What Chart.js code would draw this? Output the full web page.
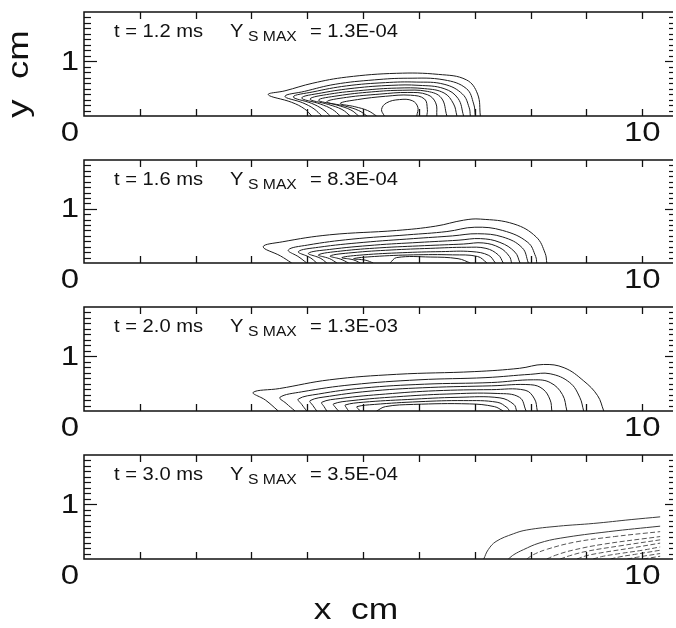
<!DOCTYPE html>
<html>
<head>
<meta charset="utf-8">
<script src="https://cdn.jsdelivr.net/npm/chart.js@4.4.1/dist/chart.umd.min.js"></script>
<style>
  html, body { margin: 0; padding: 0; background: #fff; }
  #wrap { position: relative; width: 676px; height: 628px; overflow: hidden; }
  #wrap canvas { position: absolute; left: 0; }
</style>
</head>
<body>
<div id="wrap">
  <canvas id="panel0" width="676" height="148" style="top:0px"></canvas>
  <canvas id="panel1" width="676" height="148" style="top:148px"></canvas>
  <canvas id="panel2" width="676" height="148" style="top:296px"></canvas>
  <canvas id="panel3" width="676" height="184" style="top:444px"></canvas>
</div>
<script>
// ---- axis ranges (cm) ----
const X_MIN = 0, X_MAX = 10.55;
const Y_MIN = 0, Y_MAX = 1.9;

// ---- labels ----
const times = ['1.2', '1.6', '2.0', '3.0'];           // ms
const ysMax = ['1.3E-04', '8.3E-04', '1.3E-03', '3.5E-04'];
const xTickLabels = [{ v: 0, t: '0' }, { v: 10, t: '10' }];
const yTickLabels = [{ v: 1, t: '1' }];
const xMajorTicks = [1, 2, 3, 4, 5, 6, 7, 8, 9, 10];

// ---- contour lines of Y_S, (x cm, y cm) ----
const contours12 = [
  [[4.08,0],[3.95,0.13],[3.72,0.25],[3.30,0.39],[3.60,0.46],[4.10,0.60],[4.70,0.71],[5.60,0.78],[6.35,0.76],[6.85,0.66],[7.05,0.40],[7.10,0]],
  [[4.26,0],[4.12,0.13],[3.92,0.24],[3.60,0.36],[3.95,0.45],[4.50,0.58],[5.20,0.66],[5.80,0.69],[6.45,0.66],[6.85,0.50],[6.98,0.22],[7.01,0]],
  [[4.41,0],[4.28,0.12],[4.08,0.23],[3.75,0.35],[4.10,0.44],[4.70,0.55],[5.40,0.61],[5.95,0.62],[6.45,0.58],[6.78,0.40],[6.90,0.15],[6.92,0]],
  [[4.59,0],[4.45,0.12],[4.23,0.22],[3.90,0.33],[4.25,0.42],[4.85,0.51],[5.50,0.56],[6.00,0.56],[6.45,0.50],[6.70,0.32],[6.80,0]],
  [[4.77,0],[4.62,0.12],[4.38,0.21],[4.05,0.31],[4.40,0.40],[5.00,0.47],[5.60,0.51],[6.10,0.50],[6.45,0.42],[6.62,0.22],[6.68,0]],
  [[4.92,0],[4.78,0.11],[4.53,0.20],[4.20,0.29],[4.55,0.37],[5.15,0.44],[5.70,0.47],[6.15,0.45],[6.40,0.33],[6.50,0]],
  [[5.07,0],[4.92,0.10],[4.68,0.18],[4.35,0.26],[4.70,0.34],[5.30,0.40],[5.80,0.43],[6.15,0.39],[6.30,0.24],[6.32,0]],
  [[5.24,0],[5.08,0.10],[4.85,0.17],[4.59,0.23],[4.90,0.30],[5.40,0.36],[5.85,0.38],[6.10,0.31],[6.15,0.12],[6.14,0]],
  [[5.38,0],[5.33,0.12],[5.42,0.24],[5.65,0.30],[5.88,0.28],[5.98,0.16],[5.96,0]]
];
const contours16 = [
  [[3.72,0],[3.52,0.13],[3.21,0.30],[3.55,0.39],[4.40,0.52],[5.60,0.60],[6.30,0.68],[6.80,0.79],[7.10,0.81],[7.70,0.72],[8.10,0.48],[8.26,0.18],[8.29,0]],
  [[3.99,0],[3.85,0.11],[3.66,0.24],[4.00,0.33],[4.80,0.44],[5.80,0.52],[6.50,0.58],[7.00,0.66],[7.50,0.60],[7.95,0.38],[8.09,0.12],[8.11,0]],
  [[4.17,0],[4.05,0.10],[3.84,0.21],[4.20,0.29],[5.00,0.38],[5.90,0.45],[6.60,0.50],[7.05,0.54],[7.50,0.48],[7.85,0.28],[7.96,0]],
  [[4.35,0],[4.23,0.09],[4.02,0.18],[4.40,0.25],[5.20,0.33],[6.00,0.38],[6.70,0.42],[7.10,0.45],[7.45,0.38],[7.72,0.20],[7.81,0]],
  [[4.53,0],[4.40,0.08],[4.20,0.15],[4.60,0.22],[5.30,0.28],[6.10,0.32],[6.80,0.35],[7.15,0.37],[7.45,0.28],[7.62,0.12],[7.66,0]],
  [[4.74,0],[4.60,0.07],[4.41,0.13],[4.80,0.19],[5.50,0.24],[6.20,0.27],[6.85,0.29],[7.20,0.27],[7.42,0.15],[7.51,0]],
  [[4.95,0],[4.82,0.06],[4.62,0.10],[5.00,0.15],[5.70,0.19],[6.40,0.21],[6.95,0.21],[7.25,0.14],[7.37,0]],
  [[5.18,0],[5.05,0.05],[4.83,0.08],[5.20,0.12],[5.90,0.15],[6.60,0.15],[7.05,0.12],[7.22,0]],
  [[5.48,0],[5.60,0.10],[6.20,0.11],[6.70,0.08],[6.92,0]]
];
const contours20 = [
  [[3.48,0],[3.25,0.20],[3.03,0.34],[3.50,0.41],[4.40,0.57],[5.60,0.67],[7.00,0.72],[7.80,0.78],[8.23,0.85],[8.60,0.79],[8.95,0.55],[9.20,0.28],[9.31,0]],
  [[3.78,0],[3.62,0.14],[3.51,0.25],[3.90,0.35],[4.80,0.48],[6.00,0.57],[7.20,0.61],[8.00,0.67],[8.35,0.68],[8.70,0.52],[8.88,0.25],[8.95,0]],
  [[3.99,0],[3.90,0.12],[3.84,0.22],[4.20,0.31],[5.00,0.42],[6.10,0.49],[7.30,0.52],[8.05,0.57],[8.35,0.52],[8.57,0.30],[8.65,0]],
  [[4.17,0],[4.10,0.10],[4.05,0.19],[4.40,0.27],[5.20,0.37],[6.20,0.43],[7.30,0.46],[8.00,0.48],[8.22,0.40],[8.35,0.20],[8.38,0]],
  [[4.35,0],[4.30,0.08],[4.26,0.16],[4.60,0.23],[5.40,0.31],[6.30,0.37],[7.30,0.39],[7.90,0.38],[8.07,0.22],[8.12,0]],
  [[4.56,0],[4.50,0.07],[4.47,0.13],[4.80,0.19],[5.60,0.26],[6.50,0.31],[7.40,0.32],[7.80,0.25],[7.92,0]],
  [[4.74,0],[4.70,0.06],[4.68,0.11],[5.00,0.16],[5.80,0.21],[6.70,0.25],[7.45,0.24],[7.70,0.12],[7.75,0]],
  [[4.95,0],[4.91,0.04],[4.89,0.08],[5.20,0.12],[6.00,0.17],[6.80,0.19],[7.40,0.16],[7.58,0.06],[7.62,0]],
  [[5.24,0],[5.40,0.08],[5.90,0.12],[6.90,0.13],[7.35,0.08],[7.51,0]]
];
const contours30 = [
  [[7.16,0],[7.24,0.17],[7.38,0.32],[7.69,0.46],[7.93,0.53],[8.50,0.60],[9.13,0.65],[9.80,0.72],[10.32,0.77]],
  [[7.60,0],[7.70,0.08],[7.87,0.17],[8.15,0.29],[8.53,0.38],[9.40,0.50],[10.32,0.60]],
  [[7.93,0],[8.05,0.08],[8.30,0.18],[8.80,0.31],[9.50,0.41],[10.32,0.50]],
  [[8.29,0],[8.45,0.07],[8.75,0.16],[9.30,0.27],[10.32,0.41]],
  [[8.53,0],[8.70,0.06],[9.00,0.14],[9.60,0.24],[10.32,0.35]],
  [[8.83,0],[9.00,0.06],[9.30,0.12],[9.80,0.20],[10.32,0.29]],
  [[9.12,0],[9.30,0.05],[9.60,0.10],[10.00,0.16],[10.32,0.22]],
  [[9.43,0],[9.60,0.04],[9.90,0.09],[10.32,0.16]],
  [[9.73,0],[9.95,0.04],[10.32,0.10]],
  [[10.02,0],[10.32,0.05]]
];
const panelContours = [contours12, contours16, contours20, contours30];

// ---- layout ----
const canvasTops  = [0, 148, 296, 444];
const canvasHeights = [148, 148, 148, 184];
const panelTops = [12, 160, 307, 455];
const panelBottoms = [116, 263, 411, 559];
const PLOT_LEFT = 84, PLOT_RIGHT = 673, W = 676;
const FONT = '"Liberation Sans", Arial, Helvetica, sans-serif';
const TEXT_STRETCH = 1.22;
const LABEL_STRETCH = 1.12;
const INK = '#111';

function wideText(ctx, str, x, y, size, align, baseline, stretch) {
  ctx.save();
  ctx.translate(x, y);
  ctx.scale(stretch || TEXT_STRETCH, 1);
  ctx.font = size + 'px ' + FONT;
  ctx.fillStyle = INK;
  ctx.textAlign = align || 'left';
  ctx.textBaseline = baseline || 'alphabetic';
  ctx.fillText(str, 0, 0);
  ctx.restore();
}

function seg(ctx, x1, y1, x2, y2) {
  ctx.beginPath(); ctx.moveTo(x1, y1); ctx.lineTo(x2, y2); ctx.stroke();
}

const panelDecor = {
  id: 'panelDecor',
  afterDatasetsDraw(chart, args, opts) {
    const ctx = chart.ctx;
    const xs = chart.scales.x, ys = chart.scales.y;
    const L = xs.getPixelForValue(X_MIN), R = xs.getPixelForValue(X_MAX);
    const T = ys.getPixelForValue(Y_MAX), B = ys.getPixelForValue(Y_MIN);
    ctx.save();
    ctx.strokeStyle = INK;
    // frame: left, top, bottom
    ctx.lineWidth = 1.5;
    ctx.beginPath();
    ctx.moveTo(R, T); ctx.lineTo(L, T); ctx.lineTo(L, B); ctx.lineTo(R, B);
    ctx.stroke();
    // x ticks, inward on top and bottom
    ctx.lineWidth = 1.3;
    xMajorTicks.forEach(v => {
      const px = Math.round(xs.getPixelForValue(v)) + 0.5;
      seg(ctx, px, T, px, T + 7);
      seg(ctx, px, B, px, B - 7);
    });
    // y ticks every 0.1 cm, left and right
    ctx.lineWidth = 1.2;
    for (let i = 1; i <= 18; i++) {
      const v = i / 10;
      const py = Math.round(ys.getPixelForValue(v)) + 0.5;
      const major = (i === 10);
      seg(ctx, L, py, L + (major ? 13 : 7), py);
      seg(ctx, R, py, R - (major ? 8 : 4), py);
    }
    // tick labels
    xTickLabels.forEach(tk => {
      if (tk.v === 0) return;
      wideText(ctx, tk.t, xs.getPixelForValue(tk.v), B + 18, 27, 'center', 'middle');
    });
    wideText(ctx, '0', L - 14, B + 18, 27, 'center', 'middle');
    yTickLabels.forEach(tk => {
      wideText(ctx, tk.t, L - 14, ys.getPixelForValue(tk.v) + 1, 27, 'center', 'middle');
    });
    // annotation
    const i = opts.index;
    const base = T + 25;
    wideText(ctx, 't = ' + times[i] + ' ms', L + 30, base, 18, 'left', 'alphabetic', LABEL_STRETCH);
    wideText(ctx, 'Y', L + 146, base, 18, 'left', 'alphabetic', LABEL_STRETCH);
    wideText(ctx, 'S MAX', L + 164, base + 4, 14, 'left', 'alphabetic', LABEL_STRETCH);
    wideText(ctx, '= ' + ysMax[i], L + 226, base, 18, 'left', 'alphabetic', LABEL_STRETCH);
    // axis titles
    if (i === 0) {
      ctx.save();
      ctx.translate(20, 74);
      ctx.rotate(-Math.PI / 2);
      wideText(ctx, 'y  cm', 0, 0, 30, 'center', 'middle');
      ctx.restore();
    }
    if (i === 3) {
      wideText(ctx, 'x  cm', 356, B + 52, 29, 'center', 'middle');
    }
    ctx.restore();
  }
};

function buildPanel(i) {
  const solidCount = (i === 3) ? 2 : 99;
  const datasets = panelContours[i].map((pts, k) => ({
    data: pts.map(p => ({ x: p[0], y: p[1] })),
    showLine: true,
    fill: false,
    tension: 0.4,
    pointRadius: 0,
    borderWidth: 1,
    borderColor: (i === 3) ? (k < solidCount ? '#3a3a3a' : '#555') : '#1c1c1c',
    borderDash: (k < solidCount) ? [] : [5, 2.5]
  }));
  const top = panelTops[i] - canvasTops[i];
  const bottom = canvasHeights[i] - (panelBottoms[i] - canvasTops[i]);
  new Chart(document.getElementById('panel' + i), {
    type: 'scatter',
    data: { datasets },
    options: {
      responsive: false,
      animation: false,
      events: [],
      layout: { padding: { left: PLOT_LEFT, right: W - PLOT_RIGHT, top, bottom } },
      scales: {
        x: { type: 'linear', min: X_MIN, max: X_MAX, display: false },
        y: { type: 'linear', min: Y_MIN, max: Y_MAX, display: false }
      },
      plugins: {
        legend: { display: false },
        tooltip: { enabled: false },
        panelDecor: { index: i }
      }
    },
    plugins: [panelDecor]
  });
}

[0, 1, 2, 3].forEach(buildPanel);
</script>
</body>
</html>
